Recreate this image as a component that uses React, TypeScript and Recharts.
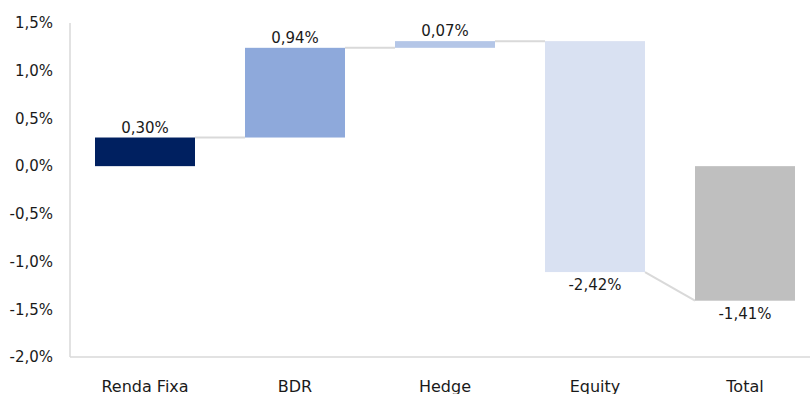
import React from "react";
import { BarChart, Bar, XAxis, YAxis, LabelList } from "recharts";

const categories = ["Renda Fixa", "BDR", "Hedge", "Equity", "Total"];
const changes = [0.3, 0.94, 0.07, -2.42, -1.41];
const isTotal = [false, false, false, false, true];
const barColors = ["#002060", "#8EA9DB", "#B4C6E7", "#D9E1F2", "#BFBFBF"];
const yTicks = [-2, -1.5, -1, -0.5, 0, 0.5, 1, 1.5];

const CHART_W = 820;
const CHART_H = 394;
const Y_AXIS_W = 70;
const BAND = (CHART_W - Y_AXIS_W) / categories.length;
const FONT = "'DejaVu Sans', sans-serif";
const GRID = "#D9D9D9";

// build the waterfall: each step starts where the previous one ended
let running = 0;
const steps = categories.map((name, i) => {
  const v = changes[i];
  let start = running;
  let end = running + v;
  if (isTotal[i]) {
    start = 0;
    end = v;
  } else {
    running = end;
  }
  return { name, value: v, start, end, range: [Math.min(start, end), Math.max(start, end)] };
});

// connector goes from the end of a bar to where the next one is entered
const data = steps.map((s, i) => {
  const next = steps[i + 1];
  let connectTo: number | null = null;
  if (next) connectTo = isTotal[i + 1] ? next.end : next.start;
  return { ...s, connectTo };
});

const fmtPct = (v: number, digits: number) =>
  v.toFixed(digits).replace(".", ",") + "%";

const WaterfallBar = (props: any) => {
  const { x, y, width, height, index } = props;
  const d = data[index];
  const top = Math.min(y, y + height);
  const h = Math.abs(height);
  const [lo, hi] = d.range;
  const pxPerUnit = h / (hi - lo);
  const toPx = (v: number) => top + (hi - v) * pxPerUnit;
  return (
    <g>
      {d.connectTo !== null && (
        <line
          x1={x + width}
          y1={toPx(d.end)}
          x2={x + BAND}
          y2={toPx(d.connectTo)}
          stroke={GRID}
          strokeWidth={2}
        />
      )}
      <rect x={x} y={top} width={width} height={h} fill={barColors[index]} />
    </g>
  );
};

const ValueLabel = (props: any) => {
  const { x, y, width, height, index } = props;
  const d = data[index];
  const top = Math.min(y, y + height);
  const bottom = Math.max(y, y + height);
  const positive = d.value >= 0;
  return (
    <text
      x={x + width / 2}
      y={positive ? top - 5 : bottom + 18}
      textAnchor="middle"
      fontFamily={FONT}
      fontSize={15}
      fill="#1a1a1a"
    >
      {fmtPct(d.value, 2)}
    </text>
  );
};

export default function App() {
  return (
    <div
      style={{
        position: "absolute",
        left: 0,
        top: 0,
        width: 810,
        height: 394,
        overflow: "hidden",
        background: "#fff",
      }}
    >
      <BarChart
        width={CHART_W}
        height={CHART_H}
        data={data}
        margin={{ top: 23, right: 0, bottom: 7, left: 0 }}
        barSize={100}
      >
        <XAxis
          dataKey="name"
          height={30}
          tickLine={false}
          tickSize={0}
          tickMargin={24}
          axisLine={{ stroke: GRID, strokeWidth: 1.5 }}
          tick={{ fill: "#1a1a1a", fontSize: 16, fontFamily: FONT }}
        />
        <YAxis
          width={Y_AXIS_W}
          domain={[-2, 1.5]}
          ticks={yTicks}
          tickFormatter={(v: number) => fmtPct(v, 1)}
          tickLine={false}
          tickSize={0}
          tickMargin={17}
          axisLine={{ stroke: GRID, strokeWidth: 1.5 }}
          tick={{ fill: "#1a1a1a", fontSize: 15, fontFamily: FONT }}
          interval={0}
        />
        <Bar dataKey="range" shape={WaterfallBar} isAnimationActive={false}>
          <LabelList dataKey="range" content={ValueLabel} />
        </Bar>
      </BarChart>
    </div>
  );
}
